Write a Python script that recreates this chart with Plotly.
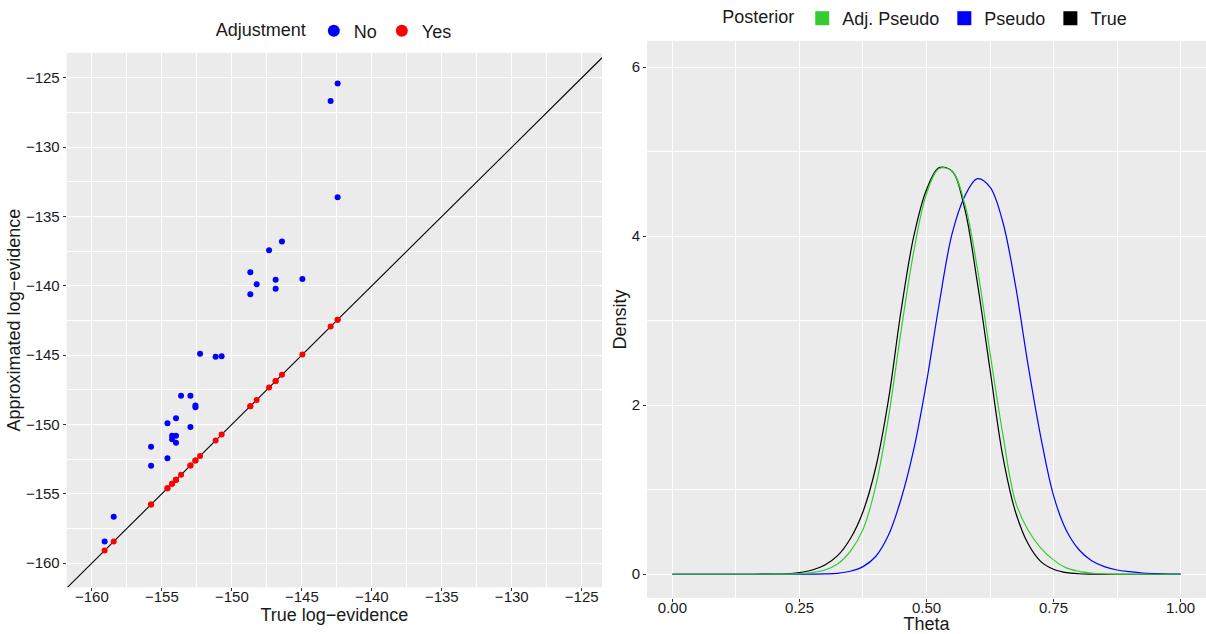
import plotly.graph_objects as go

# ---------------- Left panel data ----------------
true_log_evidence = [-159.09, -158.44, -155.77, -155.77, -154.60, -154.60, -154.27, -154.27,
                     -153.99, -153.99, -153.99, -153.63, -152.96, -152.96, -152.60, -152.60,
                     -152.27, -151.16, -150.73, -148.68, -148.68, -148.23, -147.34, -146.87,
                     -146.87, -146.42, -144.96, -142.94, -142.44, -142.44]
approx_no_adjustment = [-158.44, -156.65, -151.61, -152.98, -149.91, -152.43, -150.81, -151.06,
                        -150.81, -149.55, -151.32, -147.93, -147.93, -150.19, -148.63, -148.75,
                        -144.90, -145.12, -145.08, -139.02, -140.61, -139.88, -137.43, -139.57,
                        -140.22, -136.81, -139.50, -126.66, -125.41, -133.61]
approx_with_adjustment = [-159.09, -158.44, -155.77, -155.77, -154.60, -154.60, -154.27, -154.27,
                          -153.99, -153.99, -153.99, -153.63, -152.96, -152.96, -152.60, -152.60,
                          -152.27, -151.16, -150.73, -148.68, -148.68, -148.23, -147.34, -146.87,
                          -146.87, -146.42, -144.96, -142.94, -142.44, -142.44]
left_x_ticks = [-160, -155, -150, -145, -140, -135, -130, -125]
left_y_ticks = [-160, -155, -150, -145, -140, -135, -130, -125]

# ---------------- Right panel data ----------------
theta = [0.000, 0.025, 0.050, 0.075, 0.100, 0.125, 0.150, 0.175, 0.200, 0.225,
         0.250, 0.275, 0.300, 0.325, 0.350, 0.375, 0.400, 0.425, 0.450, 0.475,
         0.500, 0.525, 0.550, 0.575, 0.600, 0.625, 0.650, 0.675, 0.700, 0.725,
         0.750, 0.775, 0.800, 0.825, 0.850, 0.875, 0.900, 0.925, 0.950, 0.975, 1.000]
density_true = [0.0, 0.0, 0.0, 0.0, 0.0, 0.0, 0.0, 0.0005, 0.002, 0.006,
                0.02, 0.05, 0.11, 0.22, 0.42, 0.74, 1.26, 2.06, 3.12, 4.00,
                4.55, 4.81, 4.77, 4.33, 3.45, 2.42, 1.40, 0.74, 0.36, 0.15,
                0.06, 0.02, 0.006, 0.002, 0.0, 0.0, 0.0, 0.0, 0.0, 0.0, 0.0]
density_pseudo = [0.0, 0.0, 0.0, 0.0, 0.0, 0.0, 0.0, 0.0, 0.0, 0.0005,
                  0.001, 0.002, 0.004, 0.011, 0.035, 0.09, 0.21, 0.46, 0.89, 1.48,
                  2.27, 3.20, 4.02, 4.47, 4.68, 4.58, 4.17, 3.42, 2.47, 1.62,
                  0.93, 0.52, 0.29, 0.16, 0.09, 0.05, 0.03, 0.015, 0.008, 0.003, 0.001]
density_adj_pseudo = [0.0, 0.0, 0.0, 0.0, 0.0, 0.0, 0.0, 0.0, 0.0005, 0.002,
                      0.007, 0.02, 0.05, 0.12, 0.27, 0.53, 1.04, 1.85, 2.88, 3.82,
                      4.50, 4.80, 4.77, 4.39, 3.62, 2.62, 1.66, 0.86, 0.52, 0.31,
                      0.17, 0.075, 0.035, 0.015, 0.006, 0.002, 0.0005, 0.0, 0.0, 0.0, 0.0]
right_x_ticks = [0.0, 0.25, 0.5, 0.75, 1.0]
right_y_ticks = [0, 2, 4, 6]

LEFT_X_RANGE = [-161.8, -123.55]
LEFT_Y_RANGE = [-161.75, -123.2]
RIGHT_X_RANGE = [-0.05, 1.05]
RIGHT_Y_RANGE = [-0.28, 6.31]

FONT = "Liberation Sans, Arial, Helvetica, sans-serif"
PANEL_BG = "#EBEBEB"
TICK_COLOR = "#333333"
TEXT_COLOR = "#1A1A1A"

fig = go.Figure()

# reference line y = x (spans the panel)
fig.add_trace(go.Scatter(x=LEFT_X_RANGE, y=LEFT_X_RANGE, mode="lines",
                         line=dict(color="black", width=1.1), showlegend=False,
                         hoverinfo="skip", xaxis="x", yaxis="y"))
fig.add_trace(go.Scatter(x=true_log_evidence, y=approx_no_adjustment, mode="markers",
                         marker=dict(color="#0000FF", size=6), name="No",
                         showlegend=False, xaxis="x", yaxis="y"))
fig.add_trace(go.Scatter(x=true_log_evidence, y=approx_with_adjustment, mode="markers",
                         marker=dict(color="#FF0000", size=6), name="Yes",
                         showlegend=False, xaxis="x", yaxis="y"))
# legend entries (left)
fig.add_trace(go.Scatter(x=[None], y=[None], mode="markers",
                         marker=dict(color="#0000FF", size=12), name="No",
                         legend="legend", xaxis="x", yaxis="y"))
fig.add_trace(go.Scatter(x=[None], y=[None], mode="markers",
                         marker=dict(color="#FF0000", size=12), name="Yes",
                         legend="legend", xaxis="x", yaxis="y"))

# right panel curves
fig.add_trace(go.Scatter(x=theta, y=density_true, mode="lines",
                         line=dict(color="black", width=1.2, shape="spline", smoothing=1.0),
                         showlegend=False, xaxis="x2", yaxis="y2"))
fig.add_trace(go.Scatter(x=theta, y=density_pseudo, mode="lines",
                         line=dict(color="#0000FF", width=1.2, shape="spline", smoothing=1.0),
                         showlegend=False, xaxis="x2", yaxis="y2"))
fig.add_trace(go.Scatter(x=theta, y=density_adj_pseudo, mode="lines",
                         line=dict(color="#33CC33", width=1.2, shape="spline", smoothing=1.0),
                         showlegend=False, xaxis="x2", yaxis="y2"))
for nm, col in [("Adj. Pseudo", "#33CC33"), ("Pseudo", "#0000FF"), ("True", "#000000")]:
    fig.add_trace(go.Scatter(x=[None], y=[None], mode="markers",
                             marker=dict(color=col, size=14, symbol="square"), name=nm,
                             legend="legend2", xaxis="x2", yaxis="y2"))

axis_common = dict(
    showgrid=True, gridcolor="white", gridwidth=1.1, zeroline=False,
    ticks="outside", ticklen=3, tickwidth=1, tickcolor=TICK_COLOR,
    tickfont=dict(family=FONT, size=15, color=TEXT_COLOR),
    showline=False, automargin=False,
)
minor_common = dict(showgrid=True, gridcolor="white", gridwidth=0.5, ticks="")

fig.update_layout(
    width=1206, height=634,
    margin=dict(l=0, r=0, t=0, b=0),
    paper_bgcolor="white", plot_bgcolor=PANEL_BG,
    font=dict(family=FONT, size=15, color=TEXT_COLOR),
    xaxis=dict(domain=[0.0553, 0.4992], range=LEFT_X_RANGE, tickvals=left_x_ticks,
               minor=dict(dtick=2.5, tick0=-162.5, **minor_common),
               ticklabelstandoff=-7,
               title=dict(text="True log−evidence", font=dict(size=18), standoff=0),
               anchor="y", **axis_common),
    yaxis=dict(domain=[0.0737, 0.918], range=LEFT_Y_RANGE, tickvals=left_y_ticks,
               minor=dict(dtick=2.5, tick0=-162.5, **minor_common),
               title=dict(text="Approximated log−evidence", font=dict(size=18), standoff=0),
               anchor="x", **axis_common),
    xaxis2=dict(domain=[0.5365, 1.0], range=RIGHT_X_RANGE, tickvals=right_x_ticks,
                tickformat=".2f",
                minor=dict(dtick=0.125, tick0=0, **minor_common),
                ticklabelstandoff=-7,
                title=dict(text="Theta", font=dict(size=18), standoff=6),
                anchor="y2", **axis_common),
    yaxis2=dict(domain=[0.057, 0.937], range=RIGHT_Y_RANGE, tickvals=right_y_ticks,
                minor=dict(dtick=1, tick0=0, **minor_common),
                title=dict(text="Density", font=dict(size=18), standoff=0),
                anchor="x2", **axis_common),
    legend=dict(orientation="h", x=0.278, xanchor="center", y=0.951, yanchor="middle",
                title=dict(text="Adjustment", side="left", font=dict(size=18)),
                font=dict(size=18), itemwidth=30, bgcolor="rgba(0,0,0,0)",
                tracegroupgap=0),
    legend2=dict(orientation="h", x=0.768, xanchor="center", y=0.972, yanchor="middle",
                 title=dict(text="Posterior", side="left", font=dict(size=18)),
                 font=dict(size=18), itemwidth=30, bgcolor="rgba(0,0,0,0)",
                 tracegroupgap=0),
)

fig.write_html("out.html", config={"displayModeBar": False},
               post_script="document.body.style.margin='0';document.body.style.overflow='hidden';")
